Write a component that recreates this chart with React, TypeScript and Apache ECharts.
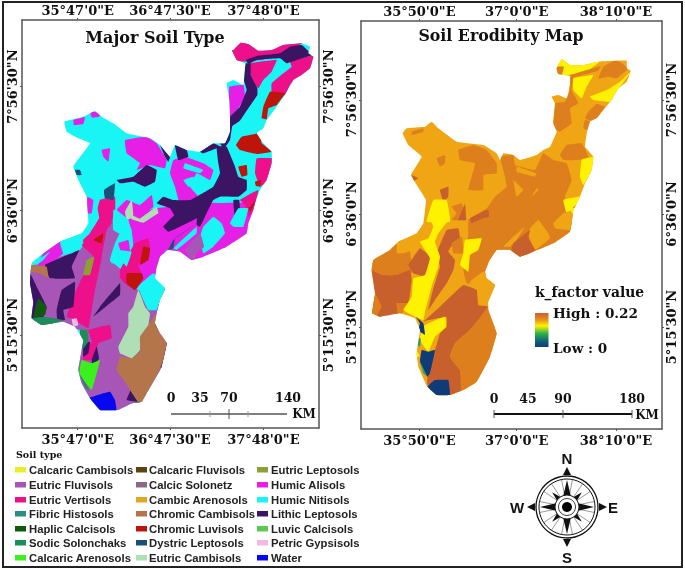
import React, { useEffect, useRef } from "react";
import * as echarts from "echarts";

const S = (a: number[]) => a.map((v, i) => (i % 2 ? v + 630 : v));

const soilNames = ["Calcaric Cambisols", "Eutric Fluvisols", "Eutric Vertisols", "Fibric Histosols", "Haplic Calcisols", "Sodic Solonchaks", "Calcaric Arenosols", "Calcaric Fluvisols", "Calcic Solonetz", "Cambic Arenosols", "Chromic Cambisols", "Chromic Luvisols", "Dystric Leptosols", "Eutric Cambisols", "Eutric Leptosols", "Humic Alisols", "Humic Nitisols", "Lithic Leptosols", "Luvic Calcisols", "Petric Gypsisols", "Water"];
const soilColors = ["#e6f028", "#a855b8", "#ee0f8a", "#2e8b80", "#0f5a0f", "#1e8c5a", "#3cf01e", "#5a4414", "#8a6a8a", "#e0a81e", "#b5754b", "#be140a", "#1a4f78", "#aedfb5", "#8fa032", "#e61ee6", "#19f5f5", "#3c1464", "#5cc850", "#f5b8e6", "#0808f0"];
const soil = (n: string) => soilColors[soilNames.indexOf(n)];

const leftOutline = [700,150, 722,128, 745,132, 775,152, 815,150, 850,135, 905,130, 930,140, 925,160, 940,170, 930,205, 905,225, 880,240, 855,285, 830,320, 800,360, 790,385, 770,400, 790,430, 815,455, 815,490, 800,540, 780,570, 765,610, 760,630, 745,670, 740,700, 680,740, 610,770, 575,780, 540,755, 505,750, 480,770, 470,805, 465,835, 495,865, 480,900, 470,940, 465,970, 480,1000, 500,1030, 485,1100, 475,1120, 440,1180, 425,1205, 395,1210, 355,1230, 300,1230, 270,1195, 245,1150, 235,1110, 245,1050, 250,1020, 225,980, 190,965, 125,975, 95,955, 100,905, 90,850, 95,790, 130,760, 180,725, 245,700, 265,670, 262,620, 260,590, 240,550, 220,500, 270,430, 235,415, 200,395, 193,365, 250,350, 285,333, 305,350, 340,370, 380,400, 450,415, 480,435, 510,470, 525,435, 560,450, 600,455, 640,430, 675,430, 690,395, 690,350, 688,300, 680,250, 700,240, 730,255, 735,190, 710,180, 695,150];

type Region = [string, number[]];
const leftRegions: Region[] = [
  ["Humic Nitisols", [0,0, 1100,0, 1100,1300, 0,1300]],
  ["Eutric Fluvisols", S([80,175, 240,120, 275,60, 310,20, 380,20, 345,100, 330,150, 365,180, 360,205, 415,240, 520,300, 520,620, 300,620, 220,520, 240,360, 80,345])],
  ["Humic Alisols", S([395,60, 380,20, 470,-5, 610,-20, 780,-20, 780,40, 680,130, 600,160, 500,120, 470,170, 465,215, 430,215, 405,240, 370,200, 400,120])],
  ["Humic Alisols", [520,480, 555,470, 610,490, 640,510, 630,540, 590,520, 570,560, 595,590, 540,610, 525,560, 510,520]],
  ["Humic Alisols", [375,420, 440,410, 470,430, 500,480, 495,505, 450,495, 410,510, 420,490, 380,460]],
  ["Humic Alisols", [305,450, 330,445, 325,485, 310,470]],
  ["Humic Alisols", [220,360, 255,352, 250,372, 222,375]],
  ["Humic Alisols", [270,333, 300,340, 298,350, 275,352]],
  ["Humic Alisols", [688,260, 730,255, 735,290, 715,325, 690,350]],
  ["Humic Alisols", [350,630, 380,600, 420,615, 455,585, 460,620, 420,650, 370,660]],
  ["Humic Alisols", [262,590, 280,600, 275,640, 262,640]],
  ["Humic Alisols", S([130,130, 180,90, 190,130, 150,160, 110,170])],
  ["Humic Alisols", S([355,100, 385,90, 390,125, 365,130])],
  ["Humic Nitisols", [555,490, 610,510, 600,520, 550,505]],
  ["Humic Nitisols", [550,540, 580,530, 590,555, 565,560]],
  ["Humic Nitisols", [595,590, 625,540, 640,545, 610,595]],
  ["Eutric Vertisols", [695,150, 722,120, 775,145, 850,125, 910,125, 880,150, 860,165, 830,170, 780,180, 710,185]],
  ["Eutric Vertisols", [750,190, 830,180, 815,215, 790,240, 775,265, 760,250, 750,220]],
  ["Eutric Vertisols", [870,185, 945,165, 935,210, 890,235, 870,255, 855,285, 815,275, 815,250, 850,220, 875,200]],
  ["Eutric Vertisols", [770,475, 820,475, 815,500, 800,545, 780,560, 765,520]],
  ["Eutric Vertisols", [720,600, 775,570, 760,630, 745,650, 735,615]],
  ["Eutric Vertisols", [300,600, 345,590, 345,640, 335,660, 300,660, 293,625]],
  ["Eutric Vertisols", S([240,100, 270,70, 300,20, 310,0, 330,0, 335,40, 320,60, 300,170, 285,240, 275,300, 265,355, 215,325, 200,320, 220,260, 240,215, 280,140])],
  ["Eutric Vertisols", S([360,180, 405,100, 445,85, 450,115, 440,140, 415,165, 430,205, 405,240, 380,225, 360,205])],
  ["Eutric Vertisols", S([265,360, 330,345, 335,385, 295,400, 285,450, 250,450, 250,430, 275,395])],
  ["Chromic Luvisols", [810,275, 855,280, 830,315, 805,325, 800,358, 785,355, 790,320]],
  ["Chromic Luvisols", [725,410, 780,400, 785,430, 815,455, 770,462, 720,450, 708,435]],
  ["Chromic Luvisols", [715,500, 740,495, 742,525, 725,530]],
  ["Chromic Luvisols", [765,545, 785,540, 780,560, 768,558]],
  ["Chromic Luvisols", [745,625, 770,600, 750,635]],
  ["Chromic Luvisols", S([380,190, 425,190, 430,205, 405,240, 380,220])],
  ["Chromic Luvisols", S([430,110, 450,115, 445,150, 420,165])],
  ["Chromic Luvisols", S([280,90, 310,70, 305,100, 290,95])],
  ["Chromic Luvisols", S([470,265, 480,245, 498,235, 485,260])],
  ["Lithic Leptosols", [870,140, 905,135, 935,165, 890,180, 860,190, 840,175, 770,180, 745,192, 738,180, 770,168, 840,160]],
  ["Lithic Leptosols", [738,190, 752,190, 752,225, 772,265, 772,285, 745,325, 720,362, 697,378, 690,420, 672,445, 660,430, 680,400, 690,350, 720,320, 740,270, 730,235]],
  ["Lithic Leptosols", [650,440, 680,440, 695,475, 705,500, 715,530, 740,540, 740,570, 715,590, 660,590, 640,600, 615,650, 600,680, 590,675, 590,650, 535,665, 510,625, 470,610, 490,590, 520,600, 570,600, 640,560, 660,520, 655,490]],
  ["Lithic Leptosols", [700,600, 718,600, 720,660, 705,655]],
  ["Lithic Leptosols", [480,435, 510,470, 505,485, 495,470]],
  ["Lithic Leptosols", [525,435, 560,450, 565,470, 535,480]],
  ["Lithic Leptosols", [600,455, 640,430, 660,440, 610,460]],
  ["Lithic Leptosols", [350,540, 400,530, 440,495, 470,510, 465,545, 435,560, 400,545, 360,550]],
  ["Lithic Leptosols", S([490,50, 530,10, 600,-5, 590,25, 540,50, 505,65])],
  ["Lithic Leptosols", S([135,165, 215,130, 238,120, 215,170, 225,205, 150,205])],
  ["Lithic Leptosols", S([90,190, 110,230, 140,290, 130,320, 90,325])],
  ["Lithic Leptosols", S([185,240, 225,215, 220,290, 190,300, 195,330, 172,330, 170,300])],
  ["Lithic Leptosols", S([280,320, 300,290, 360,220, 360,255, 330,280])],
  ["Lithic Leptosols", S([465,340, 480,380, 468,380])],
  ["Lithic Leptosols", S([465,425, 505,395, 485,475, 470,460])],
  ["Lithic Leptosols", S([380,570, 395,535, 415,575])],
  ["Lithic Leptosols", S([250,400, 270,395, 265,430, 250,440])],
  ["Lithic Leptosols", S([275,450, 290,410, 297,445, 280,480])],
  ["Chromic Cambisols", S([470,310, 465,340, 480,370, 510,400, 470,500, 425,590, 390,540, 385,530, 350,480, 360,440, 390,445, 420,425, 420,380, 445,345])],
  ["Chromic Cambisols", S([80,165, 140,170, 145,205, 120,190, 85,185])],
  ["Eutric Cambisols", S([415,240, 435,290, 450,310, 445,345, 420,380, 420,420, 395,445, 360,430, 355,410, 385,350, 385,310, 400,290])],
  ["Eutric Cambisols", [375,635, 395,600, 400,650, 380,660]],
  ["Eutric Cambisols", [415,660, 470,620, 475,640, 420,665]],
  ["Eutric Cambisols", S([380,0, 395,15, 430,30, 470,0, 475,8, 430,38, 395,28])],
  ["Eutric Leptosols", S([250,195, 260,150, 283,140, 270,195])],
  ["Eutric Leptosols", S([575,145, 590,100, 598,100, 582,145])],
  ["Humic Nitisols", S([415,230, 460,190, 500,235, 480,270, 470,300, 445,300, 430,270])],
  ["Humic Nitisols", S([340,0, 350,0, 385,30, 400,100, 385,85, 340,60])],
  ["Humic Nitisols", S([330,150, 350,120, 395,125, 380,170, 370,160, 335,160])],
  ["Humic Nitisols", S([180,95, 245,70, 250,100, 215,130, 190,130])],
  ["Humic Nitisols", S([100,160, 150,125, 130,150, 110,165])],
  ["Humic Nitisols", S([610,50, 640,20, 665,40, 675,70, 640,110, 610,130, 600,80])],
  ["Humic Nitisols", S([690,40, 715,-5, 745,-5, 730,50, 700,50])],
  ["Dystric Leptosols", S([505,120, 520,90, 585,45, 525,85, 520,115])],
  ["Humic Nitisols", S([520,115, 590,50, 590,70, 530,120])],
  ["Eutric Fluvisols", S([555,120, 600,70, 612,110, 590,130, 575,148])],
  ["Dystric Leptosols", [225,510, 240,510, 245,525, 230,525]],
  ["Dystric Leptosols", [312,570, 345,550, 340,600, 315,595]],
  ["Haplic Calcisols", S([115,265, 140,290, 135,315, 100,325])],
  ["Sodic Solonchaks", S([95,325, 135,320, 190,330, 130,350, 100,340])],
  ["Sodic Solonchaks", S([240,360, 262,360, 265,395, 245,420])],
  ["Sodic Solonchaks", S([235,480, 270,545, 255,530])],
  ["Sodic Solonchaks", S([360,605, 395,580, 420,575, 390,600])],
  ["Petric Gypsisols", S([215,328, 230,325, 235,345, 220,350])],
  ["Calcaric Arenosols", S([245,450, 275,460, 300,450, 275,540, 238,490])],
  ["Water", S([265,565, 330,545, 345,570, 350,610, 300,610])],
];

const rightOutline = [650,205, 665,178, 690,195, 730,195, 775,185, 860,182, 860,205, 872,212, 860,245, 835,265, 815,300, 790,330, 770,355, 750,365, 742,390, 735,440, 760,470, 755,510, 735,550, 720,590, 700,630, 695,670, 690,695, 640,730, 580,755, 540,770, 510,750, 470,750, 450,780, 435,815, 440,835, 465,855, 445,905, 445,930, 470,1000, 450,1070, 410,1145, 370,1170, 330,1185, 290,1185, 262,1160, 235,1100, 230,1060, 240,990, 225,955, 180,940, 120,950, 97,940, 105,880, 95,810, 100,780, 150,750, 175,725, 230,700, 250,670, 255,630, 258,600, 240,570, 213,525, 245,470, 205,435, 188,400, 200,385, 255,380, 275,365, 295,385, 350,425, 430,435, 470,460, 480,480, 490,460, 520,465, 540,480, 590,465, 610,450, 630,440, 650,395, 640,370, 645,310, 635,290, 655,285, 680,295, 690,255, 690,228, 655,222];

const GOLD = "#efa514", ORANGE = "#de7f1e", BROWN = "#c8602e", YELLOW = "#fff200", NAVY = "#0f3c78", TEAL = "#2e9e70", GREEN = "#2cb34a";
const rightRegions: [string, number[]][] = [
  [GOLD, [0,0, 1100,0, 1100,1300, 0,1300]],
  [YELLOW, [650,190, 665,170, 690,190, 730,190, 785,180, 740,215, 690,224, 650,224]],
  [ORANGE, [645,200, 672,200, 665,224, 645,220]],
  [ORANGE, [690,226, 782,198, 775,212, 700,232]],
  [ORANGE, [775,235, 790,200, 830,180, 865,205, 830,235, 805,230]],
  [YELLOW, [700,235, 760,225, 740,260, 725,295, 700,270]],
  [YELLOW, [840,245, 875,212, 835,268, 810,305, 760,300, 750,290, 800,270]],
  [ORANGE, [680,230, 700,230, 695,270, 715,310, 690,325, 695,370, 660,395, 635,380, 640,310, 675,305, 690,270]],
  [ORANGE, [745,335, 770,312, 795,320, 770,355, 750,362, 735,355]],
  [ORANGE, [735,360, 750,365, 745,392, 730,385]],
  [ORANGE, [660,465, 680,435, 725,430, 745,470, 715,480, 670,480]],
  [YELLOW, [725,480, 765,470, 755,515, 730,555, 720,530]],
  [ORANGE, [215,395, 250,385, 250,395, 215,405]],
  [ORANGE, [355,450, 400,435, 440,450, 470,490, 470,520, 430,525, 430,570, 385,570, 395,530, 405,490, 360,480]],
  [ORANGE, [290,475, 315,465, 315,490, 300,500]],
  [ORANGE, [480,470, 520,465, 525,495, 585,510, 610,460, 640,480, 680,490, 695,540, 675,590, 680,620, 700,640, 700,695, 640,735, 545,775, 510,755, 470,755, 445,785, 435,835, 415,845, 380,850, 370,810, 385,700, 385,660, 440,625, 465,590, 500,560, 490,510]],
  [GOLD, [530,500, 590,520, 585,530, 530,515]],
  [GOLD, [520,540, 550,570, 530,590]],
  [GOLD, [575,590, 590,565, 595,570, 570,595]],
  [YELLOW, [670,600, 722,590, 700,640, 680,640]],
  [ORANGE, [700,622, 715,610, 700,632]],
  [GOLD, [640,670, 670,640, 700,630, 690,690, 645,685]],
  [YELLOW, S([690,-5, 720,-5, 700,15])],
  [GOLD, S([490,110, 520,80, 555,50, 530,90, 510,110])],
  [GOLD, S([570,55, 595,30, 625,70, 630,85, 585,120, 565,75])],
  [BROWN, S([520,100, 570,60, 565,85, 585,120, 545,145, 515,120])],
  [ORANGE, S([90,180, 100,150, 170,100, 170,130, 190,130, 210,125, 215,190, 170,195, 130,195])],
  [BROWN, S([90,180, 130,195, 170,195, 210,180, 215,210, 205,280, 170,280, 175,320, 120,325, 90,320, 105,250])],
  [BROWN, S([205,165, 240,115, 270,140, 255,200, 220,190])],
  [ORANGE, S([105,250, 125,290, 110,315, 95,315])],
  [ORANGE, S([170,280, 205,280, 190,305, 175,320])],
  [BROWN, [300,570, 325,560, 325,590, 310,605]],
  [BROWN, [215,525, 235,535, 222,542]],
  [YELLOW, [280,600, 320,600, 330,665, 260,665]],
  [ORANGE, [335,620, 365,610, 380,660, 335,660, 350,640]],
  [BROWN, [355,660, 375,612, 378,660]],
  [BROWN, S([390,25, 445,0, 447,15, 395,40])],
  [BROWN, [390,655, 440,630, 448,650, 395,660]],
  [BROWN, S([290,130, 320,60, 355,55, 360,85, 340,100, 325,125, 345,150, 340,180, 320,220, 285,270, 265,300, 280,235, 300,170])],
  [ORANGE, S([335,100, 365,80, 370,130, 340,130])],
  [YELLOW, S([240,95, 265,85, 280,50, 270,25, 320,0, 325,30, 295,70, 285,95, 300,140, 295,170, 275,230, 255,305, 250,330, 225,320, 190,300, 215,260, 220,205, 255,195, 270,145])],
  [YELLOW, S([375,90, 425,85, 415,120, 390,135, 385,185, 360,165, 370,130])],
  [GOLD, S([390,215, 430,185, 470,225, 445,275, 420,285, 410,240])],
  [BROWN, S([250,335, 300,290, 370,225, 410,240, 415,285, 445,290, 415,330, 390,360, 345,400, 330,440, 360,480, 365,510, 360,560, 330,560, 320,510, 262,525, 265,480, 285,420, 300,370, 320,350, 320,320, 265,330])],
  [ORANGE, S([445,290, 475,370, 450,445, 410,520, 365,555, 360,480, 330,440, 345,400, 390,360, 415,330])],
  [YELLOW, S([255,345, 315,320, 318,350, 285,380, 265,425, 245,400, 240,380])],
  [NAVY, S([262,530, 285,510, 325,510, 330,560, 290,560])],
  [NAVY, S([228,320, 250,340, 255,375, 235,360, 240,340])],
  [NAVY, S([245,420, 265,425, 285,420, 270,490, 262,500, 240,455])],
  [TEAL, S([230,385, 242,385, 240,410, 230,405])],
  [TEAL, S([240,455, 262,500, 250,490])],
  [GREEN, S([105,318, 125,318, 118,328])],
  [YELLOW, S([230,420, 240,440, 228,440])],
];

const leftLonTicks = [233, 510, 790];
const leftLatTicks = [260, 632, 1005];
const leftLonLabels = ["35°47'0\"E", "36°47'30\"E", "37°48'0\"E"];
const rightLonTicks = [238, 530, 828];
const rightLatTicks = [300, 642, 981];
const rightLonLabels = ["35°50'0\"E", "37°0'0\"E", "38°10'0\"E"];
const latLabels = ["7°56'30\"N", "6°36'0\"N", "5°15'30\"N"];

const leftScale: [string, number][] = [["0", 171], ["35", 200], ["70", 229], ["140", 288]];
const rightScale: [string, number][] = [["0", 494], ["45", 528], ["90", 563], ["180", 632]];

const AXIS = "#555";
const SERIF = "'DejaVu Serif'";

function xAxis(pos: string, grid: number, min: number, max: number, ticks: number[], labels: string[]) {
  return {
    type: "value", gridIndex: grid, position: pos, min, max, splitLine: { show: false },
    axisLine: { show: true, onZero: false, lineStyle: { color: AXIS, width: 1.5 } },
    axisTick: { show: true, length: 2, customValues: ticks, lineStyle: { color: AXIS } },
    axisLabel: { show: true, customValues: ticks, margin: pos === "top" ? 3 : 5, color: "#111", fontFamily: SERIF, fontWeight: "bold", fontSize: 13, formatter: (v: number) => labels[ticks.indexOf(v)] ?? "" },
  };
}
function yAxis(pos: string, grid: number, min: number, max: number, ticks: number[], labels: string[]) {
  return {
    type: "value", gridIndex: grid, position: pos, inverse: true, min, max, splitLine: { show: false },
    axisLine: { show: true, onZero: false, lineStyle: { color: AXIS, width: 1.5 } },
    axisTick: { show: true, length: 2, customValues: ticks, lineStyle: { color: AXIS } },
    axisLabel: { show: true, customValues: ticks, rotate: 90, margin: 3, color: "#111", fontFamily: SERIF, fontWeight: "bold", fontSize: 13, formatter: (v: number) => labels[ticks.indexOf(v)] ?? "" },
  };
}

function mapSeries(regions: [string, number[]][], colorOf: (k: string) => string, outline: number[], xi: number, yi: number) {
  const toPts = (api: any, a: number[]) => {
    const out: number[][] = [];
    for (let i = 0; i < a.length; i += 2) out.push(api.coord([a[i], a[i + 1]]));
    return out;
  };
  return {
    type: "custom", coordinateSystem: "cartesian2d", xAxisIndex: xi, yAxisIndex: yi, silent: true, clip: false,
    data: regions.map((_, i) => [i]),
    renderItem: (params: any, api: any) => {
      const r = regions[params.dataIndex];
      return {
        type: "polygon",
        shape: { points: toPts(api, r[1]), smooth: 0.08 },
        style: { fill: colorOf(r[0]), stroke: null },
        clipPath: { type: "polygon", shape: { points: toPts(api, outline), smooth: 0.08 } },
      };
    },
  };
}

function txt(text: string, x: number, y: number, fontSize: number, align = "center", font = SERIF) {
  return { type: "text", x, y, silent: true, style: { text, fontSize, fontWeight: "bold", fontFamily: font, fill: "#111", textAlign: align, textVerticalAlign: "middle" } };
}
function ln(x1: number, y1: number, x2: number, y2: number, stroke: string, lineWidth: number) {
  return { type: "line", silent: true, shape: { x1, y1, x2, y2 }, style: { stroke, lineWidth } };
}

function compass() {
  const cx = 567, cy = 507;
  const kids: any[] = [];
  kids.push({ type: "circle", shape: { cx, cy, r: 31 }, style: { fill: "#fff", stroke: "#111", lineWidth: 1.3 } });
  kids.push({ type: "circle", shape: { cx, cy, r: 28 }, style: { fill: "none", stroke: "#111", lineWidth: 1 } });
  for (let k = 0; k < 16; k++) {
    const a = (k * Math.PI) / 8 + Math.PI / 16;
    kids.push(ln(cx + 10 * Math.cos(a), cy + 10 * Math.sin(a), cx + 28 * Math.cos(a), cy + 28 * Math.sin(a), "#555", 0.6));
  }
  for (let k = 0; k < 8; k++) {
    const a = (k * Math.PI) / 4;
    const R = k % 2 ? 21 : 27;
    const w = k % 2 ? 4 : 5;
    const t = [cx + R * Math.sin(a), cy - R * Math.cos(a)];
    const l = [cx + 6 * Math.sin(a) - w * Math.cos(a), cy - 6 * Math.cos(a) - w * Math.sin(a)];
    const r = [cx + 6 * Math.sin(a) + w * Math.cos(a), cy - 6 * Math.cos(a) + w * Math.sin(a)];
    kids.push({ type: "polygon", shape: { points: [t, l, r] }, style: { fill: "#111" } });
    const b1 = [cx + 32 * Math.sin(a) - 4 * Math.cos(a), cy - 32 * Math.cos(a) - 4 * Math.sin(a)];
    const b2 = [cx + 32 * Math.sin(a) + 4 * Math.cos(a), cy - 32 * Math.cos(a) + 4 * Math.sin(a)];
    const b3 = [cx + 40 * Math.sin(a), cy - 40 * Math.cos(a)];
    if (k % 2 === 0) kids.push({ type: "polygon", shape: { points: [b1, b2, b3] }, style: { fill: "#111" } });
  }
  kids.push({ type: "circle", shape: { cx, cy, r: 12 }, style: { fill: "#fff", stroke: "#111", lineWidth: 1 } });
  kids.push({ type: "circle", shape: { cx, cy, r: 8.5 }, style: { fill: "none", stroke: "#111", lineWidth: 0.8 } });
  kids.push({ type: "circle", shape: { cx, cy, r: 5 }, style: { fill: "#000" } });
  kids.push(txt("N", cx, 458, 15, "center", "'Liberation Sans'"));
  kids.push(txt("S", cx, 557, 15, "center", "'Liberation Sans'"));
  kids.push(txt("W", 517, cy, 15, "center", "'Liberation Sans'"));
  kids.push(txt("E", 613, cy, 15, "center", "'Liberation Sans'"));
  return kids;
}

function legendEls() {
  const rows = [470, 485, 500, 514, 529, 543, 558];
  const cols = [[15, 29], [136, 149], [257, 271]];
  const els: any[] = [txt("Soil type", 16, 454, 9.5, "left")];
  const colNames = [soilNames.slice(0, 7), soilNames.slice(7, 14), soilNames.slice(14, 21)];
  colNames.forEach((names, c) => names.forEach((n, r) => {
    els.push({ type: "rect", silent: true, shape: { x: cols[c][0], y: rows[r] - 3, width: 11, height: 5.5 }, style: { fill: soil(n) } });
    const t = txt(n, cols[c][1], rows[r], 11.3, "left", "'Liberation Sans'");
    (t.style as any).fill = "#222";
    els.push(t);
  }));
  return els;
}

function App() {
  const ref = useRef<HTMLDivElement>(null);
  useEffect(() => {
    document.body.style.margin = "0";
    const chart = echarts.init(ref.current!, null, { renderer: "svg" });
    const gray = "#555";
    chart.setOption({
      animation: false,
      backgroundColor: "#fff",
      grid: [
        { left: 22, top: 20, width: 297, height: 408 },
        { left: 361, top: 21, width: 301, height: 408 },
      ],
      xAxis: [
        xAxis("top", 0, 66, 957, leftLonTicks, leftLonLabels),
        xAxis("bottom", 0, 66, 957, leftLonTicks, leftLonLabels),
        xAxis("top", 1, 63, 966, rightLonTicks, rightLonLabels),
        xAxis("bottom", 1, 63, 966, rightLonTicks, rightLonLabels),
      ],
      yAxis: [
        yAxis("left", 0, 60, 1284, leftLatTicks, latLabels),
        yAxis("right", 0, 60, 1284, leftLatTicks, latLabels),
        yAxis("left", 1, 63, 1287, rightLatTicks, latLabels),
        yAxis("right", 1, 63, 1287, rightLatTicks, latLabels),
      ],
      series: [
        mapSeries(leftRegions, soil, leftOutline, 0, 0),
        mapSeries(rightRegions, (c) => c, rightOutline, 2, 2),
      ],
      graphic: [
        { type: "rect", silent: true, shape: { x: 3, y: 2, width: 679, height: 565 }, style: { fill: "none", stroke: "#222", lineWidth: 2 } },
        txt("Major Soil Type", 155, 37, 16),
        txt("Soil Erodibity Map", 501, 35, 15.8),
        ...leftScale.map(([t, x]) => txt(t, x, 397, 12.5)),
        ln(171, 414, 287, 414, gray, 1.5),
        ln(210, 411, 210, 417, "#999", 1),
        ln(229, 409, 229, 419, gray, 1),
        ln(248, 411, 248, 417, "#999", 1),
        txt("KM", 304, 414, 12),
        ...rightScale.map(([t, x]) => txt(t, x, 398, 12.5)),
        ln(494, 414, 632, 414, "#111", 2),
        ln(494, 410, 494, 418, gray, 1),
        ln(563, 410, 563, 418, gray, 1),
        ln(632, 410, 632, 418, gray, 1),
        txt("KM", 647, 415, 12),
        txt("k_factor value", 535, 292, 13.9, "left"),
        { type: "rect", silent: true, shape: { x: 535, y: 313, width: 13.5, height: 34 }, style: { fill: { type: "linear", x: 0, y: 0, x2: 0, y2: 1, colorStops: [
          { offset: 0, color: "#c8602e" }, { offset: 0.2, color: "#e8901e" }, { offset: 0.38, color: "#fff200" }, { offset: 0.6, color: "#2cb34a" }, { offset: 0.85, color: "#0f5a78" }, { offset: 1, color: "#0f3c78" },
        ] } } },
        txt("High : 0.22", 553, 313, 13.6, "left"),
        txt("Low : 0", 553, 348, 13.6, "left"),
        ...legendEls(),
        ...compass(),
      ],
    });
    return () => chart.dispose();
  }, []);
  return <div ref={ref} style={{ position: "absolute", left: 0, top: 0, width: 685, height: 570, filter: "blur(0.35px)" }} />;
}

export default App;
